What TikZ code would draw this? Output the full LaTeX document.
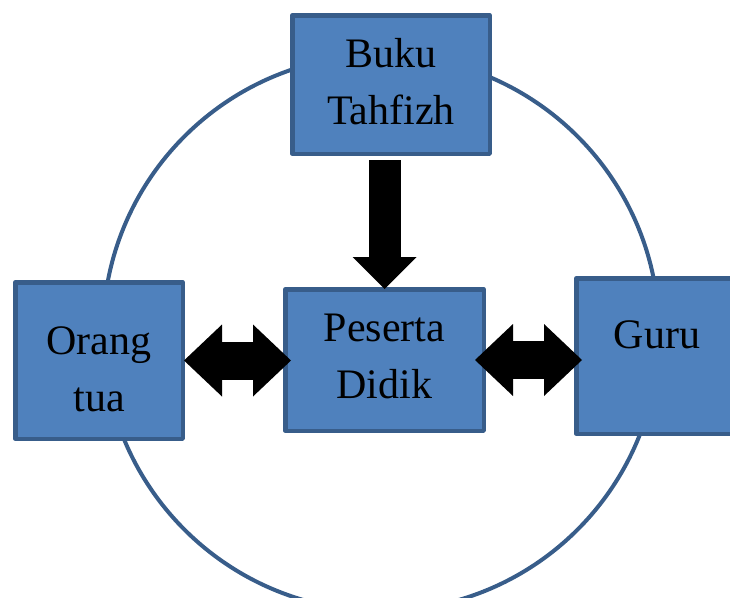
\documentclass[tikz,border=0pt]{standalone}
\usepackage{fontspec}
\setmainfont{Liberation Serif}
\usetikzlibrary{arrows.meta}
\definecolor{boxfill}{HTML}{4F81BD}
\definecolor{boxline}{HTML}{385D8A}
\tikzset{
	block/.style={
		rectangle,
		draw=boxline,
		fill=boxfill,
		line width=4.5pt,
		line join=round
	}
}

\begin{document}
\begin{tikzpicture}[x=1pt,y=-1pt]
		\tikzstyle{txt}=[align=center, font=\fontsize{42}{57}\selectfont, inner sep=0pt]
		\tikzstyle{ring}=[draw=boxline, line width=4pt]
		\tikzstyle{down}=[line width=32pt, -{Triangle[length=32pt,width=64pt,line width=0pt]}]
		\tikzstyle{both}=[line width=38pt, {Triangle[length=38pt,width=72pt,line width=0pt]}-{Triangle[length=38pt,width=72pt,line width=0pt]}]
		\useasboundingbox (0,0) rectangle (730,597);
		
		\draw[ring] (381,333) circle (278pt);
		
		\node[block, minimum width=197.5pt, minimum height=138.5pt, label={[txt, yshift=3.3pt]center:Buku\\Tahfizh}] (buku) at (391,84.5) {};
		\node[block, minimum width=167.5pt, minimum height=156.5pt, label={[txt, yshift=-8.5pt]center:Orang\\tua}] (orang) at (99,360.5) {};
		\node[block, minimum width=198.5pt, minimum height=141.5pt, label={[txt, yshift=3.7pt]center:Peserta\\Didik}] (peserta) at (384.5,360) {};
		\node[block, minimum width=161.5pt, minimum height=155.5pt, label={[txt, yshift=21.3pt]center:Guru}] (guru) at (657,356) {};
		
		\draw[down, shorten <=4pt, shorten >=-2pt] (buku.south -| peserta.north) -- (peserta.north);
		\draw[both, shorten <=-1pt, shorten >=-8pt] (orang.east) -- (orang.east -| peserta.west);
		\draw[both, shorten <=-11pt, shorten >=-8pt] (peserta.east) -- (peserta.east -| guru.west);
		
		% {buku} above the learner
		
\end{tikzpicture}
\end{document}
